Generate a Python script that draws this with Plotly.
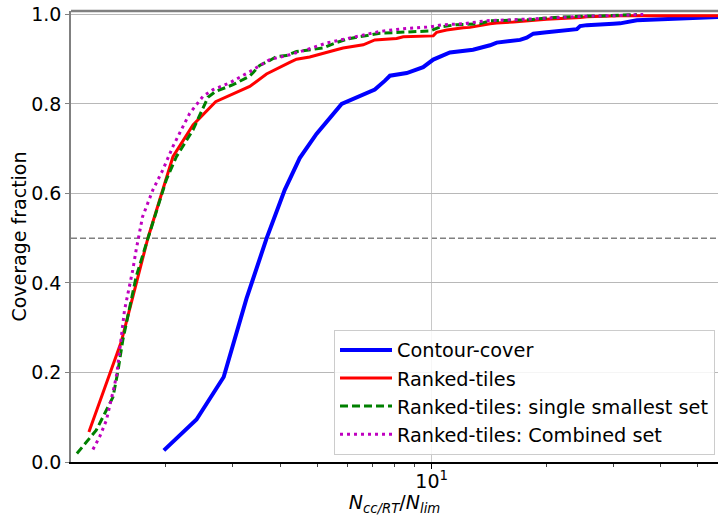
import numpy as np
import plotly.graph_objects as go

# Coverage curves versus the ratio N_cc/RT / N_lim
contour_x = [1.977, 2.409, 2.840, 3.26, 3.68, 4.11, 4.50, 4.98, 5.80, 7.09, 7.54, 7.77,
             8.60, 9.50, 10.10, 10.95, 11.17, 12.85, 13.14, 14.24, 14.83, 15.13, 17.08,
             17.78, 18.51, 20.07, 21.33, 22.65, 24.08, 24.57, 25.59, 30.06, 31.3, 34.63,
             37.54, 50.8, 56.7]
contour_y = [0.026, 0.095, 0.19, 0.365, 0.499, 0.608, 0.679, 0.733, 0.80, 0.832, 0.852,
             0.863, 0.869, 0.882, 0.899, 0.912, 0.915, 0.921, 0.923, 0.931, 0.937, 0.938,
             0.943, 0.948, 0.957, 0.960, 0.963, 0.966, 0.967, 0.974, 0.976, 0.979, 0.980,
             0.987, 0.988, 0.993, 0.994]

ranked_x = [1.256, 1.527, 1.795, 2.089, 2.359, 2.705, 3.325, 3.68, 4.236, 4.414, 4.78,
            5.19, 5.62, 5.85, 6.61, 7.09, 8.09, 8.42, 9.90, 10.10, 10.31, 10.95, 12.11,
            12.61, 14.24, 14.83, 16.40, 18.15, 20.07, 24.57, 25.59, 31.3, 56.7]
ranked_y = [0.067, 0.268, 0.50, 0.682, 0.753, 0.805, 0.839, 0.867, 0.893, 0.900, 0.905,
            0.914, 0.921, 0.925, 0.932, 0.943, 0.946, 0.950, 0.951, 0.952, 0.960, 0.965,
            0.970, 0.971, 0.979, 0.981, 0.983, 0.986, 0.989, 0.993, 0.995, 0.997, 0.997]

single_x = [1.168, 1.313, 1.453, 1.496, 1.542, 1.672, 1.757, 2.006, 2.133, 2.359, 2.582,
            2.705, 2.944, 3.005, 3.325, 3.532, 3.753, 3.91, 4.15, 4.414, 4.59, 5.19, 5.62,
            6.0, 7.31, 8.09, 9.90, 10.51, 11.63, 13.40, 14.24, 18.15, 20.07, 24.57, 28.88,
            34.63]
single_y = [0.019, 0.071, 0.145, 0.201, 0.272, 0.414, 0.474, 0.630, 0.682, 0.742, 0.815,
            0.828, 0.840, 0.843, 0.862, 0.886, 0.897, 0.906, 0.908, 0.917, 0.919, 0.925,
            0.937, 0.945, 0.958, 0.960, 0.963, 0.972, 0.977, 0.979, 0.986, 0.988, 0.992,
            0.996, 0.997, 1.0]

combined_x = [1.287, 1.340, 1.396, 1.439, 1.467, 1.488, 1.558, 1.638, 1.672, 1.738, 1.850,
              1.966, 2.089, 2.176, 2.312, 2.506, 2.662, 2.944, 3.325, 3.753, 4.236, 4.69,
              5.29, 7.31, 8.42, 9.90, 10.73, 12.11, 13.95, 16.40, 20.07, 25.59, 30.06,
              33.26, 36.0]
combined_y = [0.028, 0.056, 0.093, 0.138, 0.172, 0.198, 0.339, 0.429, 0.474, 0.548, 0.608,
              0.653, 0.705, 0.735, 0.779, 0.817, 0.832, 0.847, 0.872, 0.899, 0.910, 0.921,
              0.936, 0.962, 0.968, 0.972, 0.977, 0.979, 0.986, 0.988, 0.992, 0.996, 0.997,
              0.998, 1.0]

y_ticks = [0.0, 0.2, 0.4, 0.6, 0.8, 1.0]
x_major = [10]
x_minor = [2, 3, 4, 5, 6, 7, 8, 9, 20, 30, 40, 50]

FONT = "DejaVu Sans"

fig = go.Figure()
fig.add_trace(go.Scatter(x=contour_x, y=contour_y, mode="lines", name="Contour-cover",
                         line=dict(color="#0000ff", width=4)))
fig.add_trace(go.Scatter(x=ranked_x, y=ranked_y, mode="lines", name="Ranked-tiles",
                         line=dict(color="#ff0000", width=3)))
fig.add_trace(go.Scatter(x=single_x, y=single_y, mode="lines",
                         name="Ranked-tiles: single smallest set",
                         line=dict(color="#008000", width=3, dash="8px,4px")))
fig.add_trace(go.Scatter(x=combined_x, y=combined_y, mode="lines",
                         name="Ranked-tiles: Combined set",
                         line=dict(color="#bf00bf", width=3, dash="3px,4px")))

# horizontal reference at 50% coverage
fig.add_shape(type="line", xref="paper", yref="y", x0=0, x1=1, y0=0.5, y1=0.5,
              line=dict(color="#808080", width=1.5, dash="6px,3px"), layer="below")
# top frame line
fig.add_shape(type="line", xref="paper", yref="paper", x0=0, x1=1, y0=1, y1=1,
              line=dict(color="#808080", width=2.5))

fig.update_layout(
    width=718, height=516,
    margin=dict(l=71, r=0, t=11, b=54),
    paper_bgcolor="white", plot_bgcolor="white",
    font=dict(family=FONT, size=19, color="black"),
    showlegend=True,
    legend=dict(x=0.4065, y=0.293, xanchor="left", yanchor="top",
                bgcolor="rgba(255,255,255,0.85)", bordercolor="#cccccc", borderwidth=1,
                font=dict(size=19.3), itemwidth=52, tracegroupgap=0),
    xaxis=dict(type="log", range=[np.log10(1.127), np.log10(56.6)],
               tickmode="array", tickvals=x_major, ticktext=["10<sup>1</sup>"],
               ticks="outside", ticklen=5, tickcolor="black", ticklabelstandoff=-4,
               showgrid=True, gridcolor="#c8c8c8", gridwidth=1.2,
               showline=True, linecolor="black", linewidth=1.5, zeroline=False,
               minor=dict(tickmode="array", tickvals=x_minor, ticks="outside",
                          ticklen=3, tickcolor="#444444", showgrid=False),
               title=dict(text="<i>N<sub>cc/RT</sub></i>/<i>N<sub>lim</sub></i>",
                          font=dict(size=19), standoff=1)),
    yaxis=dict(range=[0, 1.0076], tickmode="array", tickvals=y_ticks,
               ticktext=["0.0", "0.2", "0.4", "0.6", "0.8", "1.0"],
               ticks="outside", ticklen=4, tickcolor="#808080",
               showgrid=True, gridcolor="#b8b8b8", gridwidth=1,
               showline=True, linecolor="#808080", linewidth=1.5, zeroline=False,
               title=dict(text="Coverage fraction", font=dict(size=19), standoff=0)),
)

fig.write_html("out.html")
